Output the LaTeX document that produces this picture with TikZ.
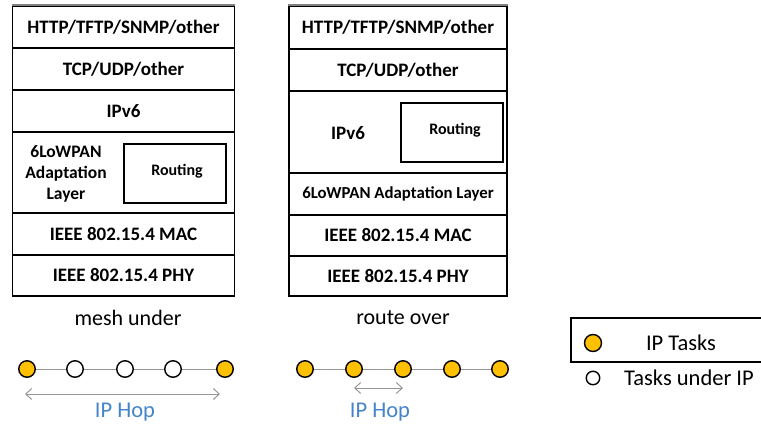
\documentclass[tikz,border=0pt]{standalone}
\usepackage{fontspec}
\setmainfont{Carlito}
\usetikzlibrary{arrows.meta}
\definecolor{ipor}{RGB}{255,192,0}
\definecolor{hopblue}{RGB}{68,132,204}
\definecolor{lgrey}{RGB}{150,150,150}
\begin{document}
\begin{tikzpicture}[x=1pt,y=-1pt,
  layer/.style={draw=black, line width=1.1pt, inner sep=0pt, font=\fontsize{19}{21}\selectfont\bfseries},
  rbox/.style={draw=black, line width=1.3pt, inner sep=0pt},
  rtext/.style={inner sep=0pt, font=\fontsize{16}{18}\selectfont\bfseries},
  ltext/.style={inner sep=0pt, font=\fontsize{17.5}{21}\selectfont\bfseries, align=center},
  iptask/.style={circle, draw=black, line width=1.4pt, fill=ipor, minimum size=16.5pt, inner sep=0pt},
  subtask/.style={circle, draw=black, line width=1.4pt, fill=white, minimum size=16.5pt, inner sep=0pt},
  link/.style={draw=lgrey, line width=0.9pt},
  hop/.style={draw=lgrey, line width=1pt, {Straight Barb[length=6pt,width=11pt]}-{Straight Barb[length=6pt,width=11pt]}},
  caption/.style={inner sep=0pt, font=\fontsize{22}{24}\selectfont},
  hoplabel/.style={inner sep=0pt, font=\fontsize{22.5}{24}\selectfont, text=hopblue}
]
\useasboundingbox (0,0) rectangle (761,426);
% left stack
\node[layer, minimum width=222pt, minimum height=42pt] (l1) at (123.5,27) {HTTP/TFTP/SNMP/other};
\node[layer, minimum width=222pt, minimum height=42pt] (l2) at (123.5,69) {TCP/UDP/other};
\node[layer, minimum width=222pt, minimum height=42pt] (l3) at (123.5,111) {IPv6};
\node[layer, minimum width=222pt, minimum height=81pt] (l4) at (123.5,172.5) {};
\node[layer, minimum width=222pt, minimum height=42pt] (l5) at (123.5,234) {IEEE 802.15.4 MAC};
\node[layer, minimum width=222pt, minimum height=41pt] (l6) at (123.5,275.5) {IEEE 802.15.4 PHY};
\node[ltext] (l4t) at (66,174) {6LoWPAN\\Adaptation\\Layer};
\node[rbox, minimum width=102pt, minimum height=59pt] (lr) at (175,173.5) {};
\node[rtext] (lrt) at (177,171) {Routing};
\draw[draw=gray, line width=2pt] (l1.north west) -- (l1.north east);
% right stack
\node[layer, minimum width=218pt, minimum height=43pt] (r1) at (398,27.5) {HTTP/TFTP/SNMP/other};
\node[layer, minimum width=218pt, minimum height=42pt] (r2) at (398,70) {TCP/UDP/other};
\node[layer, minimum width=218pt, minimum height=82pt] (r3) at (398,132) {};
\node[layer, minimum width=218pt, minimum height=42pt, font=\fontsize{16.8}{18}\selectfont\bfseries] (r4) at (398,194) {6LoWPAN Adaptation Layer};
\node[layer, minimum width=218pt, minimum height=41pt] (r5) at (398,235.5) {IEEE 802.15.4 MAC};
\node[layer, minimum width=218pt, minimum height=40pt] (r6) at (398,276) {IEEE 802.15.4 PHY};
\node[inner sep=0pt, font=\fontsize{19}{21}\selectfont\bfseries] (r3t) at (348,133) {IPv6};
\node[rbox, minimum width=102pt, minimum height=59pt] (rr) at (452,132.5) {};
\node[rtext] (rrt) at (455,130) {Routing};
\draw[draw=gray, line width=2pt] (r1.north west) -- (r1.north east);
% captions
\node[caption] (cap1) at (128,318) {mesh under};
\node[caption] (cap2) at (403,318) {route over};
% mesh under chain
\node[iptask] (m1) at (27,369) {};
\node[subtask] (m2) at (75,369) {};
\node[subtask] (m3) at (125,369) {};
\node[subtask] (m4) at (173,369) {};
\node[iptask] (m5) at (225,369) {};
\draw[link] (m1) -- (m2);
\draw[link] (m2) -- (m3);
\draw[link] (m3) -- (m4);
\draw[link] (m4) -- (m5);
\coordinate (ma) at (25,394);
\coordinate (mb) at (220,394);
\draw[hop] (ma) -- (mb);
\node[hoplabel] (h1) at (125,412) {IP Hop};
% route over chain
\node[iptask] (o1) at (305,369) {};
\node[iptask] (o2) at (354,369) {};
\node[iptask] (o3) at (403,369) {};
\node[iptask] (o4) at (452,369) {};
\node[iptask] (o5) at (500,369) {};
\draw[link] (o1) -- (o2);
\draw[link] (o2) -- (o3);
\draw[link] (o3) -- (o4);
\draw[link] (o4) -- (o5);
\coordinate (oa) at (354,388);
\coordinate (ob) at (403,388);
\draw[hop] (oa) -- (ob);
\node[hoplabel] (h2) at (380,412) {IP Hop};
% legend
\coordinate (lg1) at (571,318);
\coordinate (lg2) at (780,362);
\draw[black, line width=1.2pt] (lg2) -| (lg1) -- (lg1 -| lg2);
\node[iptask, minimum size=17pt] (lgd1) at (593,343) {};
\node[caption, font=\fontsize{22.5}{24}\selectfont] (lgt1) at (681,343) {IP Tasks};
\node[subtask, minimum size=13.5pt] (lgd2) at (593,378) {};
\node[caption, font=\fontsize{22.5}{24}\selectfont, anchor=west] (lgt2) at (624,378) {Tasks under IP};
\end{tikzpicture}
\end{document}
